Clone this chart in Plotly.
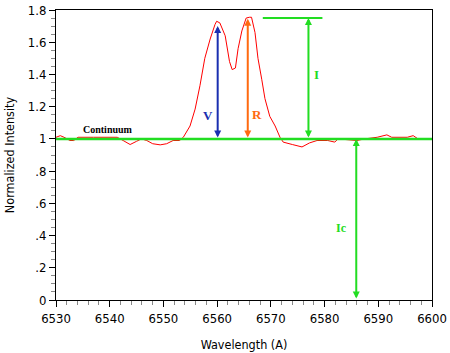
import plotly.graph_objects as go

# Spectrum (wavelength in A, normalized intensity)
wavelength = [6530.0, 6530.8, 6531.5, 6532.6, 6533.3, 6534.1, 6537.0, 6541.4, 6542.5, 6543.8,
              6545.0, 6545.9, 6546.9, 6548.0, 6549.4, 6550.6, 6551.8, 6553.0, 6553.7, 6554.95,
              6555.9, 6556.8, 6557.7, 6558.7, 6559.6, 6559.9, 6560.5, 6561.5, 6562.3, 6562.8,
              6563.4, 6563.9, 6564.6, 6565.4, 6566.0, 6566.4, 6567.05, 6567.6, 6568.3, 6568.9,
              6569.8, 6570.8, 6571.7, 6572.3, 6574.0, 6575.8, 6577.2, 6578.6, 6580.6, 6581.9,
              6582.5, 6584.7, 6586.0, 6587.5, 6589.0, 6589.8, 6591.6, 6592.5, 6595.4, 6596.5,
              6597.4, 6600.0]
intensity = [1.01, 1.02, 1.01, 0.99, 0.99, 1.01, 1.01, 1.01, 0.99, 0.965,
             0.985, 1.0, 0.99, 0.97, 0.963, 0.97, 0.99, 0.99, 1.01, 1.08,
             1.185, 1.33, 1.50, 1.62, 1.71, 1.73, 1.72, 1.64, 1.48, 1.43,
             1.44, 1.56, 1.67, 1.75, 1.755, 1.755, 1.66, 1.50, 1.37, 1.25,
             1.14, 1.08, 1.01, 0.98, 0.965, 0.95, 0.975, 0.99, 0.99, 0.98,
             1.0, 0.995, 0.99, 1.0, 1.005, 1.01, 1.025, 1.01, 1.01, 1.02,
             1.0, 1.0]

continuum_level = 1.0
x_range = [6530, 6600]

# Measurement markers: label, wavelength, low, high
V_arrow = ["V", 6560.1, 1.0, 1.70]
R_arrow = ["R", 6565.7, 1.0, 1.745]
I_arrow = ["I", 6577.0, 1.0, 1.75]
Ic_arrow = ["Ic", 6585.9, 0.0, 1.0]
I_top_x = [6568.5, 6579.6]
I_top_y = [1.75, 1.75]

# Text labels: text, x, y, colour, size
labels = [
    ("Continuum", 6539.7, 1.06, "black", 10),
    ("V", 6558.3, 1.145, "#1a2fb0", 13),
    ("R", 6567.4, 1.15, "#ff6a10", 13),
    ("I", 6578.5, 1.40, "#22dd22", 13),
    ("Ic", 6583.1, 0.445, "#22dd22", 12),
]

y_tickvals = [0, 0.2, 0.4, 0.6, 0.8, 1.0, 1.2, 1.4, 1.6, 1.8]
y_ticktext = ["0", ".2", ".4", ".6", ".8", "1", "1.2", "1.4", "1.6", "1.8"]
x_tickvals = [6530, 6540, 6550, 6560, 6570, 6580, 6590, 6600]

GREEN = "#22dd22"

fig = go.Figure()
fig.add_trace(go.Scatter(x=wavelength, y=intensity, mode="lines",
                         line=dict(color="#ff0000", width=1), hoverinfo="skip"))
fig.add_trace(go.Scatter(x=x_range, y=[continuum_level, continuum_level], mode="lines",
                         line=dict(color=GREEN, width=2.5), hoverinfo="skip"))
fig.add_trace(go.Scatter(x=I_top_x, y=I_top_y, mode="lines",
                         line=dict(color=GREEN, width=2), hoverinfo="skip"))

arrow_colors = ["#1a2fb0", "#ff6a10", GREEN, GREEN]
for arr, col in zip([V_arrow, R_arrow, I_arrow, Ic_arrow], arrow_colors):
    _, xa, lo, hi = arr
    fig.add_annotation(x=xa, y=hi, ax=xa, ay=lo, xref="x", yref="y", axref="x", ayref="y",
                       showarrow=True, arrowhead=2, arrowside="end+start", arrowsize=0.7,
                       arrowwidth=2, arrowcolor=col, text="")

for txt, xl, yl, col, sz in labels:
    fig.add_annotation(x=xl, y=yl, xref="x", yref="y", text="<b>%s</b>" % txt, showarrow=False,
                       font=dict(family="Liberation Serif, Times New Roman, serif", size=sz, color=col))

tickfont = dict(family="DejaVu Sans Condensed, Liberation Sans Narrow, sans-serif",
                size=13, color="black")
titlefont = dict(family="DejaVu Sans Condensed, Liberation Sans Narrow, sans-serif",
                 size=12.5, color="black")

fig.update_layout(
    width=450, height=353,
    margin=dict(l=56, r=18, t=10, b=53),
    paper_bgcolor="white", plot_bgcolor="white",
    showlegend=False,
    xaxis=dict(range=x_range, tickvals=x_tickvals, ticks="outside", ticklen=6, tickcolor="black",
               showline=True, linecolor="black", linewidth=1, mirror=True, showgrid=False,
               zeroline=False, tickfont=tickfont, automargin=False,
               minor=dict(dtick=2, ticks="outside", ticklen=4, tickcolor="#888888", showgrid=False),
               title=dict(text="Wavelength (A)", standoff=15, font=titlefont)),
    yaxis=dict(range=[0, 1.8], tickvals=y_tickvals, ticktext=y_ticktext, ticks="outside", ticklen=6,
               tickcolor="black", showline=True, linecolor="black", linewidth=1, mirror=True,
               showgrid=False, zeroline=False, tickfont=tickfont, automargin=False,
               minor=dict(dtick=0.05, ticks="outside", ticklen=4, tickcolor="#888888", showgrid=False),
               title=dict(text="Normalized Intensity", standoff=10, font=titlefont)),
)

fig.write_html("out.html")
